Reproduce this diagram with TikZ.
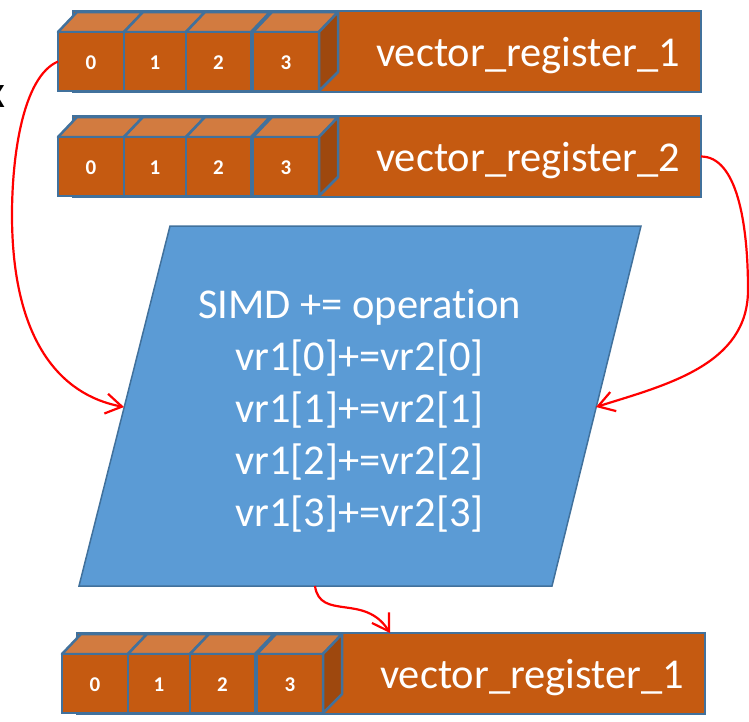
\documentclass[tikz,border=0pt]{standalone}
\usepackage{fontspec}
\setmainfont[Ligatures=NoCommon]{Carlito}
\usetikzlibrary{arrows.meta}
\definecolor{regfront}{HTML}{C55A11}
\definecolor{regtop}{HTML}{D27B40}
\definecolor{regside}{HTML}{9E480E}
\definecolor{regline}{HTML}{41719C}
\definecolor{opfill}{HTML}{5B9BD5}
\definecolor{arrowred}{HTML}{FF0000}
\tikzset{
 regbody/.style={draw=regline, line width=2.5pt, fill=regfront, inner sep=0pt, outer sep=0pt},
 cubeface/.style={draw=regline, line width=2.5pt, fill=regfront, inner sep=0pt, outer sep=0pt},
 cubetop/.style={draw=regline, line width=2.5pt, fill=regtop, line join=round},
 cubeside/.style={draw=regline, line width=2.5pt, fill=regside, line join=round},
 reglabel/.style={text=white, font=\fontsize{42.5}{50}\selectfont, inner sep=0pt, anchor=base},
 digit/.style={text=white, font=\bfseries\fontsize{21}{25}\selectfont, inner sep=0pt, anchor=base},
 opshape/.style={draw=regline, line width=1.5pt, fill=opfill, line join=miter},
 optext/.style={text=white, font=\fontsize{42.5}{50}\selectfont, inner sep=0pt, anchor=base},
 cuttext/.style={text=black, font=\fontsize{46}{50}\selectfont, inner sep=0pt, anchor=base east},
 flow/.style={draw=arrowred, line width=2.2pt, -{Straight Barb[length=16pt,width=20pt]}},
}
\newcommand\vecreg[4]{%
 \begin{scope}[shift={(#2,#3)}]
  \node[regbody, minimum width=628pt, minimum height=81pt, anchor=north west] (#1) at (73,11) {};
  \foreach \i/\a/\b in {0/58/124,1/124/186,2/186/251,3/253/319}{
   \path[cubetop] (\a,32) -- (\b,32) -- (\b+19,12) -- (\a+19,12) -- cycle;
   \node[cubeface, minimum width={(\b-\a)*1pt}, minimum height=59pt, anchor=north west] (#1c\i) at (\a,32) {};
   \node[digit] (#1d\i) at ({(\a+\b)/2},69) {\i};
  }
  \path[cubeside] (319,32) -- (338,12) -- (338,72) -- (319,91) -- cycle;
  \node[reglabel] (#1t) at (528,66) {#4};
 \end{scope}}
\begin{document}
\begin{tikzpicture}[x=1pt,y=-1pt]
\useasboundingbox (0,0) rectangle (749,721);
\node[cuttext] (cut) at (6,107) {x};
\vecreg{ra}{0}{0}{vector\_register\_1}
\vecreg{rb}{0}{105}{vector\_register\_2}
\vecreg{rc}{4}{622}{vector\_register\_1}
\path[opshape] (170,226) coordinate (pTL) -- (641,226) coordinate (pTR) -- (552,586) coordinate (pBR) -- (79,586) coordinate (pBL) -- cycle;
\node[optext] (op1) at (359.5,318) {SIMD += operation};
\node[optext] (op2) at (359.5,370) {vr1[0]+=vr2[0]};
\node[optext] (op3) at (359.5,422) {vr1[1]+=vr2[1]};
\node[optext] (op4) at (359.5,474) {vr1[2]+=vr2[2]};
\node[optext] (op5) at (359.5,526) {vr1[3]+=vr2[3]};
\coordinate (opL) at (124,407);
\coordinate (opR) at (596,407);
\coordinate (opB) at (315,586);
\coordinate (rcin) at (390,633);
\coordinate (lv) at (12,215);
\coordinate (rv) at (748,290);
\draw[flow] (rac0.west) .. controls +(-35,15) and +(0,-60) .. (lv) .. controls +(0,125) and +(-64,-12) .. (opL);
\draw[flow] (rb.east) .. controls +(35,0) and +(0,-70) .. (rv) .. controls +(0,75) and +(70,-22) .. (opR);
\draw[flow] (opB) .. controls +(5,35) and +(-25,-40) .. (rcin);
\end{tikzpicture}
\end{document}
